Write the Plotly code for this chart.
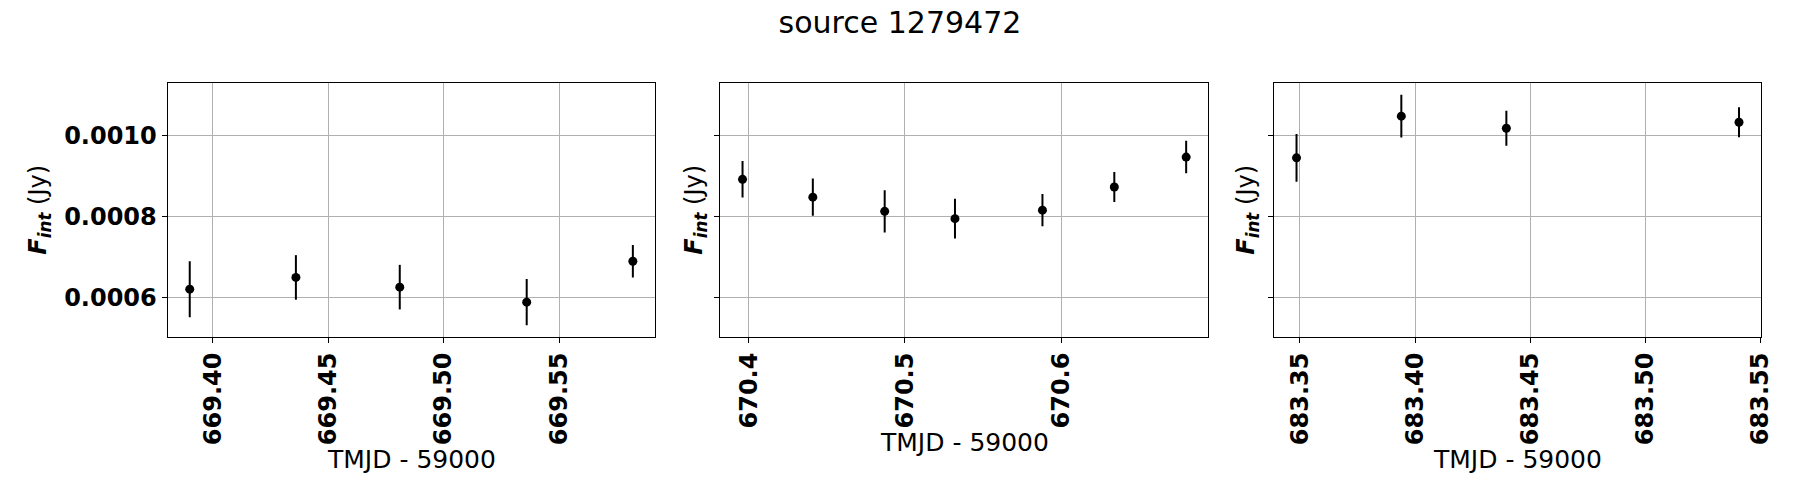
import plotly.graph_objects as go
from plotly.subplots import make_subplots

# ---------------------------------------------------------
# DATA  (TMJD - 59000, integrated flux in Jy)
# ---------------------------------------------------------

night1_t = [669.390, 669.436, 669.481, 669.536, 669.582]
night1_f = [0.000620, 0.000649, 0.000625, 0.000588, 0.000689]
night1_e = [0.000069, 0.000055, 0.000055, 0.000057, 0.000040]

night2_t = [670.396, 670.441, 670.487, 670.532, 670.588, 670.634, 670.680]
night2_f = [0.000891, 0.000847, 0.000812, 0.000794, 0.000815, 0.000872, 0.000946]
night2_e = [0.000045, 0.000046, 0.000052, 0.000049, 0.000040, 0.000037, 0.000040]

night3_t = [683.3485, 683.394, 683.4396, 683.5406]
night3_f = [0.000944, 0.001047, 0.001017, 0.001032]
night3_e = [0.000059, 0.000053, 0.000043, 0.000037]

y_ticks = [0.0006, 0.0008, 0.0010]

nights = [
    (night1_t, night1_f, night1_e, [669.40, 669.45, 669.50, 669.55], ".2f"),
    (night2_t, night2_f, night2_e, [670.4, 670.5, 670.6], ".1f"),
    (night3_t, night3_f, night3_e, [683.35, 683.40, 683.45, 683.50, 683.55], ".2f"),
]

FONT = "DejaVu Sans"

# panel placement (paper fractions)
x_domains = [[0.0931, 0.3639], [0.4002, 0.6713], [0.7080, 0.9784]]
y_domain = [0.326, 0.8334]
ytitle_x = [39.5 / 1800, 695.5 / 1800, 1247.6 / 1800]
xtitle_y = [1 - 459 / 500, 1 - 442 / 500, 1 - 459 / 500]

fig = make_subplots(rows=1, cols=3, shared_yaxes=True)

for i, (t, f, e, xt, fmt) in enumerate(nights):

    fig.add_trace(go.Scatter(
        x=t,
        y=f,
        mode="markers",
        marker={"color": "black", "size": 9},
        error_y={"type": "data", "array": e, "color": "black",
                 "thickness": 2, "width": 0},
        showlegend=False
    ), row=1, col=i + 1)

    lo, hi = min(t), max(t)
    pad = 0.05 * (hi - lo)

    fig.update_xaxes(
        domain=x_domains[i],
        range=[lo - pad, hi + pad],
        tickvals=xt,
        tickformat=fmt,
        tickangle=-90,
        ticks="outside", ticklen=5, tickcolor="black",
        tickfont={"family": FONT, "size": 24, "color": "black", "weight": "bold"},
        showline=True, linecolor="black", linewidth=1, mirror=True,
        showgrid=True, gridcolor="#b0b0b0", gridwidth=1,
        zeroline=False, automargin=False,
        row=1, col=i + 1
    )

    fig.update_yaxes(
        domain=y_domain,
        range=[0.000502, 0.001128],
        tickvals=y_ticks,
        tickformat=".4f",
        showticklabels=(i == 0),
        ticks="outside", ticklen=5, tickcolor="black",
        tickfont={"family": FONT, "size": 24, "color": "black", "weight": "bold"},
        showline=True, linecolor="black", linewidth=1, mirror=True,
        showgrid=True, gridcolor="#b0b0b0", gridwidth=1,
        zeroline=False, automargin=False,
        row=1, col=i + 1
    )

    # x axis title
    fig.add_annotation(
        text="TMJD - 59000",
        xref="paper", yref="paper",
        x=sum(x_domains[i]) / 2, y=xtitle_y[i],
        xanchor="center", yanchor="middle",
        showarrow=False,
        font={"family": FONT, "size": 25, "color": "black"}
    )

    # y axis title
    fig.add_annotation(
        text="<b><i>F</i></b><sub><b><i>int</i></b></sub> (Jy)",
        xref="paper", yref="paper",
        x=ytitle_x[i], y=sum(y_domain) / 2,
        xanchor="center", yanchor="middle",
        textangle=-90,
        showarrow=False,
        font={"family": FONT, "size": 24, "color": "black"}
    )

fig.update_layout(
    width=1800,
    height=500,
    margin={"l": 0, "r": 0, "t": 0, "b": 0},
    paper_bgcolor="white",
    plot_bgcolor="white",
    title={
        "text": "source 1279472",
        "x": 0.5, "xanchor": "center",
        "y": 1 - 22 / 500, "yanchor": "middle",
        "font": {"family": FONT, "size": 30, "color": "black"}
    }
)

# drop the default 8px body margin so the figure sits at the page corner
fig.write_html(
    "out.html",
    config={"displayModeBar": False},
    post_script="document.body.style.margin = '0';"
)
